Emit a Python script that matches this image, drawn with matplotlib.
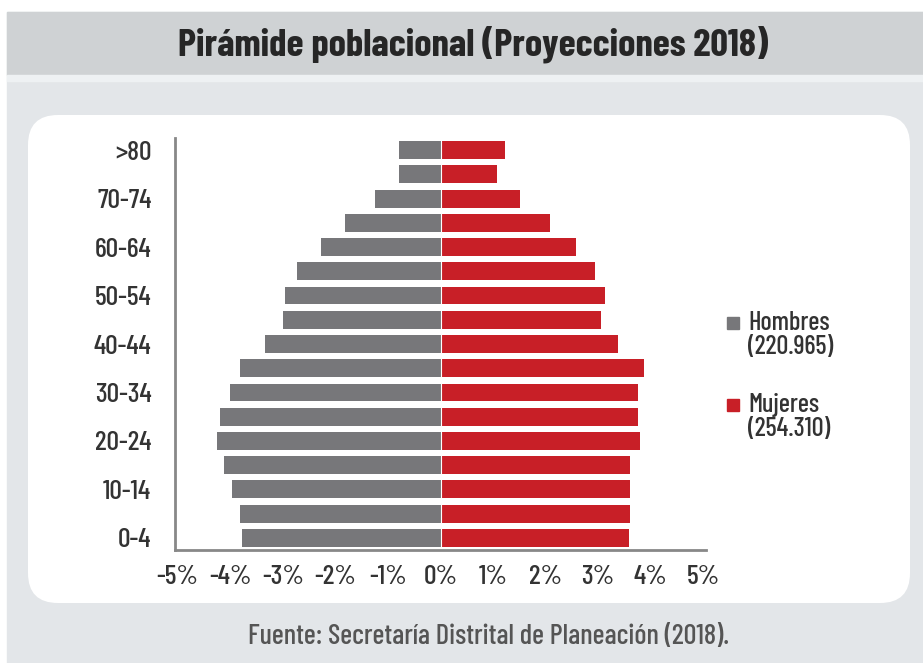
import numpy as np
import matplotlib
matplotlib.use("Agg")
import matplotlib.pyplot as plt
from matplotlib.patches import FancyBboxPatch, Rectangle

# Datos de la pirámide (porcentaje de la población)
grupos = ["0-4", "5-9", "10-14", "15-19", "20-24", "25-29", "30-34", "35-39",
          "40-44", "45-49", "50-54", "55-59", "60-64", "65-69", "70-74", "75-79", ">80"]
hombres = [3.78, 3.82, 3.96, 4.11, 4.26, 4.20, 4.00, 3.82, 3.34,
           3.00, 2.96, 2.72, 2.28, 1.82, 1.25, 0.79, 0.79]
mujeres = [3.58, 3.61, 3.61, 3.61, 3.80, 3.75, 3.75, 3.87, 3.37,
           3.05, 3.12, 2.93, 2.58, 2.08, 1.52, 1.08, 1.23]
etiquetas_y = ["0-4", "10-14", "20-24", "30-34", "40-44", "50-54", "60-64", "70-74", ">80"]
ticks_x = [-5, -4, -3, -2, -1, 0, 1, 2, 3, 4, 5]

titulo = "Pirámide poblacional (Proyecciones 2018)"
fuente = "Fuente: Secretaría Distrital de Planeación (2018)."
leyenda = [("Hombres", "(220.965)", "#77777a"), ("Mujeres", "(254.310)", "#c81f27")]

plt.rcParams['font.family'] = ['Barlow Condensed', 'DejaVu Sans']

W, H = 923, 663
fig = plt.figure(figsize=(W / 100, H / 100), dpi=100)
fig.patch.set_facecolor("white")

# fondo en coordenadas de pixel
bg = fig.add_axes([0, 0, 1, 1], zorder=0)
bg.set_xlim(0, W)
bg.set_ylim(H, 0)
bg.axis("off")
bg.add_patch(Rectangle((7, 12), W, H, color="#e3e6e9"))
bg.add_patch(Rectangle((7, 12), W, 63, color="#cfd2d4"))
bg.add_patch(Rectangle((7, 75), W, 6, color="#eef1f3"))
bg.add_patch(FancyBboxPatch((28 + 30, 115 + 30), 882 - 60, 488 - 60,
                            boxstyle="round,pad=30", fc="white", ec="none"))
bg.text(473, 44, titulo, ha="center", va="center", fontsize=28,
        fontweight="bold", color="#262626")
bg.text(488, 637, fuente, ha="center", va="center", fontsize=20.5,
        fontweight="medium", color="#555555")

# leyenda
for i, (nombre, total, col) in enumerate(leyenda):
    y0 = 323 + i * 82
    bg.add_patch(Rectangle((727, y0 - 6), 12, 12, color=col))
    bg.text(748, y0, nombre, ha="left", va="center", fontsize=19,
            fontweight="medium", color="#333333")
    bg.text(748, y0 + 24, total, ha="left", va="center", fontsize=19,
            fontweight="medium", color="#333333")

# pirámide
ax = fig.add_axes([175 / W, 1 - 550 / H, (706 - 175) / W, (550 - 138) / H], zorder=1)
ax.patch.set_alpha(0)
y = np.arange(len(grupos))
ax.barh(y, -np.array(hombres), height=0.74, color=leyenda[0][2])
ax.barh(y, mujeres, height=0.74, color=leyenda[1][2])
ax.axvline(0, color="white", lw=0.8)

ax.set_xlim(-5.05, 5.05)
ax.set_ylim(-0.5, 16.5)
ax.set_xticks(ticks_x)
ax.set_xticklabels([f"{t}%" for t in ticks_x])
ax.set_yticks([grupos.index(g) for g in etiquetas_y])
ax.set_yticklabels(etiquetas_y)
ax.tick_params(length=0, labelsize=20, colors="#333333")
for lab in ax.get_xticklabels() + ax.get_yticklabels():
    lab.set_fontweight("medium")
ax.tick_params(axis="y", pad=17)
ax.tick_params(axis="x", pad=11)
for s in ["top", "right"]:
    ax.spines[s].set_visible(False)
for s in ["left", "bottom"]:
    ax.spines[s].set_color("#888888")
    ax.spines[s].set_linewidth(2)

fig.savefig("out.png", dpi=100)
